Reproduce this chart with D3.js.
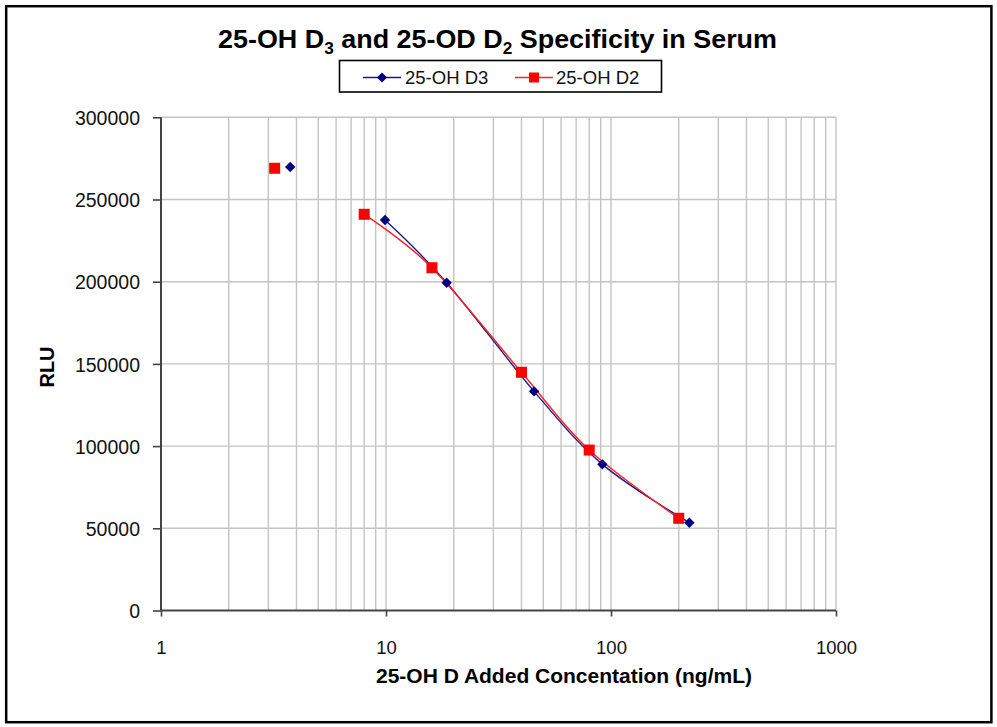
<!DOCTYPE html>
<html>
<head>
<meta charset="utf-8">
<script src="https://cdn.jsdelivr.net/npm/d3@7"></script>
<style>
  html, body { margin: 0; padding: 0; background: #fff; }
  svg { display: block; font-family: "Liberation Sans", Arial, sans-serif; }
</style>
</head>
<body>
<svg id="chart" width="997" height="727"></svg>
<script>
// ---- data ----
const seriesNames = ["25-OH D3", "25-OH D2"];
const d3Conc = [3.75, 9.9, 18.6, 45.5, 91.5, 223];
const d3RLU  = [269800, 237500, 199400, 133300, 88900, 53400];
const d2Conc = [3.2, 8, 16, 40, 80, 200];
const d2RLU  = [269000, 241000, 208500, 144900, 97600, 56100];
const xTickValues = [1, 10, 100, 1000];
const yTickValues = [0, 50000, 100000, 150000, 200000, 250000, 300000];

(function () {
const svg = d3.select("#chart");

// outer frame
svg.append("rect").attr("x", 6.2).attr("y", 6.2).attr("width", 985.2).attr("height", 716)
  .attr("fill", "#fff").attr("stroke", "#000").attr("stroke-width", 2.5);

const pL = 161, pR = 836, pT = 117.3, pB = 610.5;
const x = d3.scaleLog().domain([1, 1000]).range([pL, pR]);
const y = d3.scaleLinear().domain([0, 300000]).range([pB, pT]);

// gridlines
const minorX = [];
for (let k = 0; k < 3; k++) for (let m = 1; m <= 9; m++) {
  const v = m * Math.pow(10, k);
  if (v > 1) minorX.push(v);
}
minorX.push(1000);
const grid = svg.append("g");
grid.selectAll("line.vx").data(minorX).join("line")
  .attr("x1", d => x(d)).attr("x2", d => x(d))
  .attr("y1", pT).attr("y2", pB)
  .attr("stroke", "#c4c4c4").attr("stroke-width", 1.4);
grid.selectAll("line.hy").data(yTickValues.filter(v => v > 0)).join("line")
  .attr("x1", pL).attr("x2", pR)
  .attr("y1", d => y(d)).attr("y2", d => y(d))
  .attr("stroke", "#c4c4c4").attr("stroke-width", 1.4);

// axes
const yAxis = d3.axisLeft(y).tickValues(yTickValues).tickFormat(d3.format("d"))
  .tickSize(8).tickPadding(13);
const gy = svg.append("g").attr("transform", `translate(${pL},0)`).call(yAxis);
gy.select(".domain").attr("stroke", "#444").attr("stroke-width", 2).attr("d", `M0,${pT}V${pB}`);
gy.selectAll(".tick line").attr("stroke", "#444").attr("stroke-width", 1.6);
gy.selectAll(".tick text").attr("font-size", 19.5).attr("fill", "#111")
  .attr("font-family", "'Liberation Sans', Arial, sans-serif").attr("dy", "0.37em");

const xAxis = d3.axisBottom(x).tickValues(xTickValues).tickFormat(d3.format("d"))
  .tickSize(6).tickPadding(24);
const gx = svg.append("g").attr("transform", `translate(0,${pB})`).call(xAxis);
gx.select(".domain").attr("stroke", "#444").attr("stroke-width", 2).attr("d", `M${pL},0H${pR}`);
gx.selectAll(".tick line").attr("stroke", "#444").attr("stroke-width", 1.6);
gx.selectAll(".tick text").attr("font-size", 18.5).attr("fill", "#111")
  .attr("font-family", "'Liberation Sans', Arial, sans-serif").attr("dy", "0.71em");

// series
const curve = d3.curveCardinal.tension(0);
const lineGen = d3.line().x(d => x(d[0])).y(d => y(d[1])).curve(curve);
const s3 = d3Conc.map((c, i) => [c, d3RLU[i]]);
const s2 = d2Conc.map((c, i) => [c, d2RLU[i]]);

svg.append("path").attr("d", lineGen(s3.slice(1))).attr("fill", "none")
  .attr("stroke", "#1a1a8c").attr("stroke-width", 1.4);
svg.append("path").attr("d", lineGen(s2.slice(1))).attr("fill", "none")
  .attr("stroke", "#ff2020").attr("stroke-width", 1.4);

svg.append("g").selectAll("rect").data(s2).join("rect")
  .attr("x", d => x(d[0]) - 5.5).attr("y", d => y(d[1]) - 5.5)
  .attr("width", 11).attr("height", 11).attr("fill", "#ff0000");
svg.append("g").selectAll("path").data(s3).join("path")
  .attr("d", d => `M${x(d[0])},${y(d[1]) - 5.2}l5.2,5.2l-5.2,5.2l-5.2,-5.2z`)
  .attr("fill", "#000080");

// title
const title = svg.append("text").attr("x", 497.5).attr("y", 48.3)
  .attr("text-anchor", "middle").attr("font-weight", "bold").attr("font-size", 25)
  .attr("fill", "#000").attr("textLength", 559).attr("lengthAdjust", "spacingAndGlyphs");
title.append("tspan").text("25-OH D");
title.append("tspan").attr("font-size", 16).attr("dy", 6).text("3");
title.append("tspan").attr("dy", -6).text(" and 25-OD D");
title.append("tspan").attr("font-size", 16).attr("dy", 6).text("2");
title.append("tspan").attr("dy", -6).text(" Specificity in Serum");

// legend
const lg = svg.append("g");
lg.append("rect").attr("x", 339.5).attr("y", 60.5).attr("width", 322).attr("height", 31.5)
  .attr("fill", "#fff").attr("stroke", "#000").attr("stroke-width", 1.6);
const legendItems = [
  { name: seriesNames[0], x0: 363, color: "#1a1a8c", fill: "#000080", shape: "diamond", tx: 405 },
  { name: seriesNames[1], x0: 515, color: "#ff2020", fill: "#ff0000", shape: "square", tx: 556 }
];
const ly = 77.5;
legendItems.forEach(it => {
  lg.append("line").attr("x1", it.x0).attr("x2", it.x0 + 38).attr("y1", ly).attr("y2", ly)
    .attr("stroke", it.color).attr("stroke-width", 1.4);
  const cx = it.x0 + 19;
  if (it.shape === "diamond") {
    lg.append("path").attr("d", `M${cx},${ly - 5}l5,5l-5,5l-5,-5z`).attr("fill", it.fill);
  } else {
    lg.append("rect").attr("x", cx - 5).attr("y", ly - 5).attr("width", 10).attr("height", 10).attr("fill", it.fill);
  }
  lg.append("text").attr("x", it.tx).attr("y", 84.3).attr("font-size", 18.5)
    .attr("fill", "#111").text(it.name);
});

// axis titles
svg.append("text").attr("x", 564).attr("y", 683.3).attr("text-anchor", "middle")
  .attr("font-weight", "bold").attr("font-size", 21).attr("fill", "#000")
  .text("25-OH D Added Concentation (ng/mL)");
svg.append("text").attr("transform", "translate(54.3,367) rotate(-90)")
  .attr("text-anchor", "middle").attr("font-weight", "bold").attr("font-size", 20)
  .attr("fill", "#000").text("RLU");
})();
</script>
</body>
</html>
